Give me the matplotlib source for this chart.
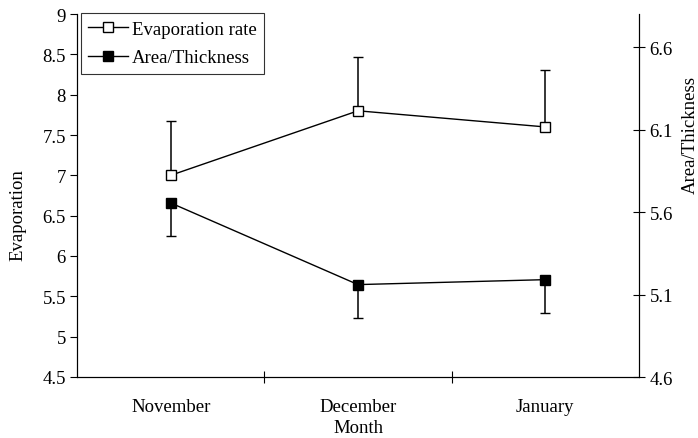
import matplotlib.pyplot as plt
from matplotlib.lines import Line2D
import numpy as np

plt.rcParams['font.family'] = ['Liberation Serif', 'DejaVu Serif']
plt.rcParams['font.size'] = 13.5

months = ['November', 'December', 'January']
evap = [7.0, 7.8, 7.6]
evap_err = [0.67, 0.67, 0.70]
area = [5.655, 5.16, 5.19]
area_err = [0.20, 0.205, 0.20]

fig = plt.figure(figsize=(6.98, 4.39), dpi=100)
ax = fig.add_axes([77 / 698, 61 / 439, 562 / 698, 363 / 439])
ax2 = ax.twinx()

x = np.arange(len(months))

# evaporation: upper error only
ax.errorbar(x, evap, yerr=[np.zeros(3), evap_err], color='black', lw=1.0,
            marker='s', ms=7, mfc='white', mec='black', mew=1.0,
            capsize=3.6, elinewidth=1.1, capthick=1.1, zorder=3)
# area/thickness: lower error only
ax2.errorbar(x, area, yerr=[area_err, np.zeros(3)], color='black', lw=1.0,
             marker='s', ms=7, mfc='black', mec='black', mew=1.0,
             capsize=3.6, elinewidth=1.1, capthick=1.1, zorder=3)

ax.set_xlim(-0.5, 2.5)
ax.set_ylim(4.5, 9)
ax2.set_ylim(4.6, 6.8)
ax.set_yticks(np.arange(4.5, 9.01, 0.5))
ax.set_yticklabels(['4.5', '5', '5.5', '6', '6.5', '7', '7.5', '8', '8.5', '9'])
ax2.set_yticks([4.6, 5.1, 5.6, 6.1, 6.6])
ax2.set_yticklabels(['4.6', '5.1', '5.6', '6.1', '6.6'])

# category labels without ticks, ticks between categories
ax.set_xticks(x)
ax.set_xticklabels(months)
ax.tick_params(axis='x', length=0, pad=15)
ax.set_xticks([0.5, 1.5], minor=True)
ax.tick_params(axis='x', which='minor', direction='inout', length=9, width=0.8)
ax.tick_params(axis='y', direction='out', length=5, width=0.8, pad=3)
ax2.tick_params(axis='y', direction='inout', length=9, width=0.8, pad=3)

for a in (ax, ax2):
    a.spines['top'].set_visible(False)
    for s in ('left', 'right', 'bottom'):
        a.spines[s].set_linewidth(0.8)

# legend with plain line+marker handles
handles = [
    Line2D([], [], color='black', lw=1.0, marker='s', ms=7, mfc='white', mec='black'),
    Line2D([], [], color='black', lw=1.0, marker='s', ms=7, mfc='black', mec='black'),
]
leg = ax2.legend(handles, ['Evaporation rate', 'Area/Thickness'], loc='upper left',
                 bbox_to_anchor=(0.007, 1.003), frameon=True, fancybox=False,
                 edgecolor='black', fontsize=13.5, handlelength=2.1, handletextpad=0.2,
                 borderpad=0.4, labelspacing=0.62, borderaxespad=0)
leg.get_frame().set_linewidth(0.8)

fig.text(18 / 698, 1 - 215 / 439, 'Evaporation', rotation=90, ha='center', va='center')
fig.text(690 / 698, 1 - 135 / 439, 'Area/Thickness', rotation=90, ha='center', va='center')
fig.text(358 / 698, 1 - 429 / 439, 'Month', ha='center', va='center')

fig.savefig('out.png', dpi=100)
